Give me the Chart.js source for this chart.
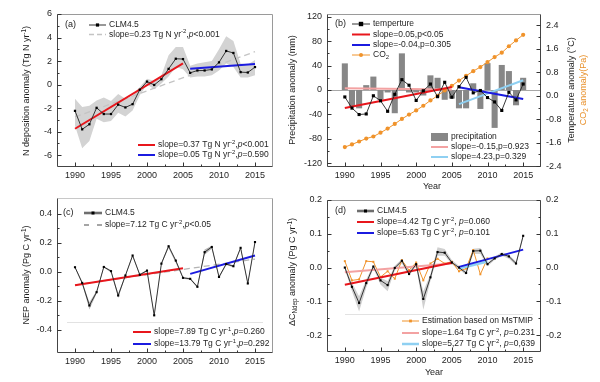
<!DOCTYPE html>
<html><head><meta charset="utf-8">
<script src="https://cdn.jsdelivr.net/npm/chart.js@4.4.0/dist/chart.umd.min.js"></script>
<style>
html,body{margin:0;padding:0;background:#fff;}
#wrap{position:relative;width:600px;height:382px;overflow:hidden;background:#fff;}
canvas{position:absolute;left:0;top:0;}
</style></head><body><div id="wrap">
<canvas id="ca" width="600" height="382"></canvas>
<canvas id="cb" width="600" height="382"></canvas>
<canvas id="cc" width="600" height="382"></canvas>
<canvas id="cd" width="600" height="382"></canvas>
</div>
<script>
// ---------- shared ----------
const years = [1990,1991,1992,1993,1994,1995,1996,1997,1998,1999,2000,2001,2002,2003,2004,2005,2006,2007,2008,2009,2010,2011,2012,2013,2014,2015];
const msYears = [1990,1991,1992,1993,1994,1995,1996,1997,1998,1999,2000,2001,2002,2003,2004,2005,2006,2007,2008,2009,2010];
const trendYearsAll = [1990,2015];
const trendYearsEarly = [1990,2005];
const trendYearsLate = [2006,2015];
const trendYearsMsLate = [2006,2010];
const xTicks = [1990,1995,2000,2005,2010,2015];
const xMinorTicks = [1992.5,1997.5,2002.5,2007.5,2012.5];

// ---------- (a) N deposition ----------
const nDep = [-2.23,-3.8,-3.37,-1.97,-2.5,-2.5,-1.7,-1.94,-1.66,-0.43,0.26,-0.03,0.46,1.34,2.2,2.17,1.0,1.2,1.2,1.29,1.89,2.86,2.69,1.06,1.03,1.49];
const nDepUpper = [-1.2,-1.9,-1.8,-1.35,-1.1,-1.4,-0.8,-1.2,-0.95,-0.2,0.5,0.3,0.8,2.5,3.2,3.2,1.6,1.8,1.9,2.0,3.0,4.1,3.7,1.8,1.7,2.1];
const nDepLower = [-3.5,-5.4,-4.8,-2.9,-3.2,-3.1,-2.4,-2.7,-2.2,-0.9,0.0,-0.4,0.1,0.7,1.5,1.3,0.6,0.7,0.7,0.8,1.2,1.8,1.5,0.6,0.6,0.8];
const nDepTrendAll = [-2.75,2.8];
const nDepTrendEarly = [-3.75,1.8];
const nDepTrendLate = [1.35,1.75];
const aYTicks = [-6,-4,-2,0,2,4,6];

// ---------- (b) climate ----------
const precip = [43.6,-27,-30,8,22,-16,-4,-38,60,-4,-4,-9,24,20,-16,-14,-30,-30,11,-31,44,-62,41,31,-25,20];
const temperature = [-0.04,-0.42,-0.64,-0.62,0.0,-0.17,-0.53,0.05,0.55,0.36,-0.16,0.17,0.4,-0.03,0.46,-0.05,0.31,0.63,0.1,0.18,-0.06,-0.21,-0.5,0.12,-0.14,0.4];
const co2 = [-1.75,-1.66,-1.56,-1.46,-1.39,-1.26,-1.12,-0.96,-0.79,-0.64,-0.5,-0.34,-0.16,0.0,0.18,0.34,0.52,0.68,0.84,0.98,1.15,1.32,1.47,1.69,1.89,2.08];
const tempTrendEarly = [-0.42,0.3];
const tempTrendLate = [0.29,-0.11];
const precipTrendEarly = [3,0.8];
const precipTrendLate = [-23,16];
const bLeftTicks = [-120,-80,-40,0,40,80,120];
const bRightTicks = [-2.4,-1.6,-0.8,0,0.8,1.6,2.4];

// ---------- (c) NEP ----------
const nep = [0.032,-0.076,-0.232,-0.14,0.034,0.005,-0.163,-0.025,0.113,-0.02,0.009,-0.3,0.057,0.177,0.078,-0.041,-0.048,-0.103,0.136,0.172,-0.035,0.054,0.039,0.166,-0.08,0.206];
const nepUpper = [0.037,-0.068,-0.21,-0.13,0.04,0.012,-0.15,-0.02,0.12,-0.014,0.015,-0.29,0.064,0.187,0.08,-0.035,-0.042,-0.095,0.155,0.18,-0.03,0.062,0.046,0.172,-0.072,0.214];
const nepLower = [0.027,-0.085,-0.26,-0.15,0.028,-0.003,-0.18,-0.032,0.105,-0.026,0.002,-0.31,0.05,0.165,0.062,-0.048,-0.055,-0.11,0.118,0.16,-0.045,0.048,0.032,0.158,-0.088,0.198];
const nepTrendAll = [-0.09,0.088];
const nepTrendEarly = [-0.092,0.025];
const nepTrendLate = [-0.014,0.113];
const cYTicks = [-0.4,-0.2,0,0.2,0.4];

// ---------- (d) delta C Ndep ----------
const dcClm = [0.0,-0.057,-0.105,-0.046,0.003,-0.038,-0.052,-0.001,0.02,-0.019,0.01,-0.093,-0.029,0.046,0.044,0.015,0.0,-0.016,0.049,0.05,0.01,0.027,0.04,0.033,0.012,0.094];
const dcUpper = [0.005,-0.045,-0.085,-0.035,0.008,-0.03,-0.04,0.005,0.025,-0.012,0.015,-0.07,-0.02,0.06,0.055,0.022,0.005,-0.01,0.056,0.058,0.015,0.032,0.045,0.038,0.018,0.1];
const dcLower = [-0.005,-0.07,-0.13,-0.06,-0.002,-0.05,-0.07,-0.008,0.012,-0.025,0.005,-0.125,-0.04,0.035,0.035,0.01,-0.005,-0.022,0.04,0.04,0.004,0.022,0.035,0.026,0.006,0.088];
const dcMsTmip = [0.019,-0.038,-0.035,0.019,0.017,-0.028,-0.011,-0.033,0.022,-0.008,0.015,-0.038,0.012,0.026,0.012,0.017,-0.011,-0.003,0.052,-0.02,0.027];
const dcTrendEarly = [-0.051,0.014];
const dcTrendLate = [0.002,0.053];
const msTrendEarly = [-0.014,0.012];
const msTrendLate = [-0.003,0.018];
const dYTicks = [-0.2,-0.1,0,0.1,0.2];

// ---------- styling ----------
const FONT = '"Liberation Sans", Arial, sans-serif';
const TXT = '#1e1e1e';
const RED = '#e8161c', BLUE = '#1b1be0', PINK = '#f3a2a2', LBLUE = '#8fd0f2', ORANGE = '#f0932b', BAND = '#d3d3d3';

function pts(xs, ys){ return xs.map((x,i)=>({x:x, y:ys[i]})); }

function xScaleOpt(h){
  return {type:'linear', position:'bottom', min:1987.5, max:2017.5, offset:false,
    grid:{display:false, drawTicks:false}, border:{display:false},
    ticks:{font:{family:FONT,size:9}, color:TXT, padding:3, maxRotation:0, autoSkip:false, callback:v=>String(v)},
    afterBuildTicks:s=>{s.ticks = xTicks.map(v=>({value:v}));},
    afterFit:s=>{s.height = h;}};
}
function yScaleOpt(pos, min, max, tickVals, fmt, w){
  return {type:'linear', position:pos, min:min, max:max,
    grid:{display:false, drawTicks:false}, border:{display:false},
    ticks:{font:{family:FONT,size:9}, color:TXT, padding:5, autoSkip:false, callback:v=>fmt(v)},
    afterBuildTicks:s=>{s.ticks = tickVals.map(v=>({value:v}));},
    afterFit:s=>{s.width = w;}};
}

function parseRich(s){
  const out=[]; let buf='', italic=false, i=0;
  const flush=()=>{ if(buf){ out.push({t:buf, m:'n', it:italic}); buf=''; } };
  while(i<s.length){
    const c=s[i];
    if((c==='^'||c==='_') && s[i+1]==='{'){
      flush(); const end=s.indexOf('}', i);
      out.push({t:s.slice(i+2,end), m:c==='^'?'sup':'sub', it:italic}); i=end+1; continue;
    }
    if(c==='*'){ flush(); italic=!italic; i++; continue; }
    buf+=c; i++;
  }
  flush(); return out;
}
function fontFor(t,size){ return (t.it?'italic ':'') + (t.m==='n'?size:size*0.7).toFixed(2) + 'px ' + FONT; }
function drawRich(ctx, str, x, y, size, color, align, rot){
  const toks=parseRich(str); let w=0;
  toks.forEach(t=>{ ctx.font=fontFor(t,size); t.w=ctx.measureText(t.t).width; w+=t.w; });
  ctx.save(); ctx.translate(x,y); if(rot) ctx.rotate(-Math.PI/2);
  let cx = align==='center' ? -w/2 : (align==='right' ? -w : 0);
  ctx.fillStyle=color; ctx.textBaseline='middle'; ctx.textAlign='left';
  toks.forEach(t=>{ ctx.font=fontFor(t,size);
    const dy = t.m==='sup' ? -size*0.35 : (t.m==='sub' ? size*0.3 : 0);
    ctx.fillText(t.t, cx, dy); cx+=t.w; });
  ctx.restore();
}
function seg(ctx,x1,y1,x2,y2,color,w){
  ctx.beginPath(); ctx.moveTo(x1,y1); ctx.lineTo(x2,y2); ctx.strokeStyle=color; ctx.lineWidth=w||1; ctx.stroke();
}
function drawSample(ctx, e){
  const y=e.y, x1=e.x, x2=e.x+e.w;
  if(e.kind==='box'){ ctx.fillStyle=e.color; ctx.fillRect(x1, y-4, e.w, 8); }
  else {
    if(e.under){ ctx.setLineDash([]); seg(ctx,x1,y,x2,y,e.under,3); }
    ctx.setLineDash(e.dash||[]); seg(ctx,x1,y,x2,y,e.color,e.width); ctx.setLineDash([]);
    if(e.marker){ const mx=(x1+x2)/2, r=e.mr||1.6; ctx.fillStyle=e.mcolor||e.color;
      if(e.marker==='rect') ctx.fillRect(mx-r,y-r,2*r,2*r);
      else { ctx.beginPath(); ctx.arc(mx,y,r,0,Math.PI*2); ctx.fill(); } }
  }
  drawRich(ctx, e.text, x2+3, y, 8.5, e.tcolor||TXT, 'left');
}

function decorPlugin(cfg){
  return {
    id:'decor',
    beforeDatasetsDraw(chart){
      if(cfg.zeroLine){ const ctx=chart.ctx, a=chart.chartArea, s=chart.scales[cfg.zeroLine];
        const py=Math.round(s.getPixelForValue(0))+0.5; ctx.save(); seg(ctx,a.left,py,a.right,py,'#a8a8a8',1); ctx.restore(); }
    },
    afterDraw(chart){
      const ctx=chart.ctx, a=chart.chartArea; ctx.save();
      const L=Math.round(a.left)+0.5, R=Math.round(a.right)-0.5, T=Math.round(a.top)+0.5, B=Math.round(a.bottom)-0.5;
      seg(ctx,L,T,R,T,cfg.frame.top); seg(ctx,R,T,R,B,cfg.frame.right);
      seg(ctx,L,B,R,B,cfg.frame.bottom); seg(ctx,L,T,L,B,cfg.frame.left);
      const xs=chart.scales.x;
      xTicks.forEach(v=>{ const p=Math.round(xs.getPixelForValue(v))+0.5; seg(ctx,p,B,p,B-4,'#333'); });
      xMinorTicks.forEach(v=>{ const p=Math.round(xs.getPixelForValue(v))+0.5; seg(ctx,p,B,p,B-2,'#333'); });
      cfg.yAxes.forEach(ax=>{
        const s=chart.scales[ax.id], X = ax.side==='left'? L : R, dir = ax.side==='left'? 1 : -1;
        const tv=ax.ticks;
        tv.forEach(v=>{ const p=Math.round(s.getPixelForValue(v))+0.5; seg(ctx,X,p,X+4*dir,p,'#333'); });
        for(let i=0;i<tv.length-1;i++){ const m=(tv[i]+tv[i+1])/2; const p=Math.round(s.getPixelForValue(m))+0.5; seg(ctx,X,p,X+2*dir,p,'#333'); }
      });
      (cfg.hlines||[]).forEach(h=>seg(ctx,h.x1,h.y+0.5,h.x2,h.y+0.5,h.color,1));
      cfg.titles.forEach(t=>drawRich(ctx,t.text,t.x,t.y,t.size||9,t.color||TXT,'center',t.rot));
      drawRich(ctx, cfg.label.text, cfg.label.x, cfg.label.y, 9, TXT, 'left');
      cfg.legend.forEach(e=>drawSample(ctx,e));
      ctx.restore();
    }
  };
}

const baseOpts = (padding, scales) => ({
  responsive:false, animation:false, devicePixelRatio:1, events:[],
  layout:{padding:padding},
  plugins:{legend:{display:false}, tooltip:{enabled:false}},
  elements:{line:{tension:0}},
  scales:scales
});
const lineDs = (data, color, width, extra) => Object.assign({type:'line', data:data, borderColor:color, borderWidth:width, pointRadius:0, fill:false}, extra||{});

// ---------- Chart (a) ----------
new Chart(document.getElementById('ca'), {
  type:'line',
  data:{datasets:[
    lineDs(pts(years,nDep), '#222', 0.9, {order:0, pointStyle:'rect', pointRadius:1.6, pointBackgroundColor:'#000', pointBorderWidth:0}),
    lineDs(pts(trendYearsEarly,nDepTrendEarly), RED, 2, {order:1}),
    lineDs(pts(trendYearsLate,nDepTrendLate), BLUE, 2, {order:2}),
    lineDs(pts(trendYearsAll,nDepTrendAll), '#c4c4c4', 1.3, {order:3, borderDash:[6,4]}),
    lineDs(pts(years,nDepUpper), 'rgba(0,0,0,0)', 0, {order:5, fill:'+1', backgroundColor:BAND}),
    lineDs(pts(years,nDepLower), 'rgba(0,0,0,0)', 0, {order:6})
  ]},
  options: baseOpts({left:0, top:14, right:327, bottom:192}, {
    x: xScaleOpt(23),
    y: yScaleOpt('left', -7, 6, aYTicks, v=>String(v), 57)
  }),
  plugins:[decorPlugin({
    frame:{left:'#444', bottom:'#444', top:'#9a9a9a', right:'#9a9a9a'},
    yAxes:[{id:'y', side:'left', ticks:aYTicks}],
    titles:[{text:'N deposition anomaly (Tg N yr^{-1})', x:27, y:91, rot:true}],
    label:{text:'(a)', x:65, y:25},
    legend:[
      {x:89, y:25, w:17, color:'#333', width:1, marker:'rect', mcolor:'#000', mr:1.6, text:'CLM4.5'},
      {x:89, y:34.5, w:17, color:'#c4c4c4', width:1.5, dash:[5,3], text:'slope=0.23 Tg N yr^{-2},*p*<0.001'},
      {x:138, y:145, w:17, color:RED, width:2, text:'slope=0.37 Tg N yr^{-2},*p*<0.001'},
      {x:138, y:155, w:17, color:BLUE, width:2, text:'slope=0.05 Tg N yr^{-2},*p*=0.590'}
    ]
  })]
});

// ---------- Chart (b) ----------
new Chart(document.getElementById('cb'), {
  type:'line',
  data:{datasets:[
    lineDs(pts(years,temperature), '#222', 0.9, {yAxisID:'yR', order:0, pointStyle:'rect', pointRadius:2.2, pointBackgroundColor:'#000', pointBorderWidth:0}),
    lineDs(pts(trendYearsEarly,tempTrendEarly), RED, 2, {yAxisID:'yR', order:1}),
    lineDs(pts(trendYearsLate,tempTrendLate), BLUE, 2, {yAxisID:'yR', order:2}),
    lineDs(pts(years,co2), ORANGE, 1, {yAxisID:'yR', order:3, pointStyle:'circle', pointRadius:2.1, pointBackgroundColor:ORANGE, pointBorderWidth:0}),
    lineDs(pts(trendYearsLate,precipTrendLate), LBLUE, 2, {yAxisID:'y', order:4}),
    lineDs(pts(trendYearsEarly,precipTrendEarly), PINK, 2, {yAxisID:'y', order:5}),
    {type:'bar', data:pts(years,precip), yAxisID:'y', order:6, backgroundColor:'#878787', borderWidth:0, categoryPercentage:1, barPercentage:0.85}
  ]},
  options: baseOpts({left:300, top:14, right:29, bottom:192}, {
    x: xScaleOpt(23),
    y: yScaleOpt('left', -126, 124.4, bLeftTicks, v=>String(v), 27),
    yR: yScaleOpt('right', -2.43, 2.79, bRightTicks, v=>v.toFixed(1), 30)
  }),
  plugins:[decorPlugin({
    zeroLine:'y',
    frame:{left:'#444', bottom:'#444', top:'#9a9a9a', right:'#444'},
    yAxes:[{id:'y', side:'left', ticks:bLeftTicks},{id:'yR', side:'right', ticks:bRightTicks}],
    titles:[
      {text:'Precipitation anomaly (mm)', x:293, y:90, rot:true},
      {text:'Temperature anomaly (°C)', x:572, y:90, rot:true},
      {text:'CO_{2} anomaly(Pa)', x:584, y:90, rot:true, color:'#e8902a'},
      {text:'Year', x:432, y:187}
    ],
    label:{text:'(b)', x:335, y:24},
    legend:[
      {x:352, y:24, w:18, color:'#333', width:1, marker:'rect', mcolor:'#000', mr:2.2, text:'temperture'},
      {x:352, y:34.5, w:18, color:RED, width:2, text:'slope=0.05,p<0.05'},
      {x:352, y:45, w:18, color:BLUE, width:2, text:'slope=-0.04,p=0.305'},
      {x:352, y:55, w:18, color:ORANGE, width:1, marker:'circle', mr:2, text:'CO_{2}'},
      {x:431, y:137, w:17, kind:'box', color:'#878787', text:'precipitation'},
      {x:431, y:147, w:17, color:PINK, width:2, text:'slope=-0.15,p=0.923'},
      {x:431, y:157, w:17, color:LBLUE, width:2, text:'slope=4.23,p=0.329'}
    ]
  })]
});

// ---------- Chart (c) ----------
new Chart(document.getElementById('cc'), {
  type:'line',
  data:{datasets:[
    lineDs(pts(years,nep), '#222', 0.9, {order:0, pointStyle:'rect', pointRadius:1.5, pointBackgroundColor:'#000', pointBorderWidth:0}),
    lineDs(pts(trendYearsEarly,nepTrendEarly), RED, 2, {order:1}),
    lineDs(pts(trendYearsLate,nepTrendLate), BLUE, 2, {order:2}),
    lineDs(pts(trendYearsAll,nepTrendAll), '#b4b4b4', 1.3, {order:3, borderDash:[6,4]}),
    lineDs(pts(years,nepUpper), 'rgba(0,0,0,0)', 0, {order:5, fill:'+1', backgroundColor:'#b8b8b8'}),
    lineDs(pts(years,nepLower), 'rgba(0,0,0,0)', 0, {order:6})
  ]},
  options: baseOpts({left:0, top:198, right:327, bottom:7}, {
    x: xScaleOpt(22),
    y: yScaleOpt('left', -0.56, 0.51, cYTicks, v=>v.toFixed(1), 57)
  }),
  plugins:[decorPlugin({
    frame:{left:'#444', bottom:'#444', top:'#c8c8c8', right:'#9a9a9a'},
    yAxes:[{id:'y', side:'left', ticks:cYTicks}],
    hlines:[{x1:67, x2:263, y:322, color:'#e2e2e2'}],
    titles:[{text:'NEP anomaly (Pg C yr^{-1})', x:27, y:275, rot:true}],
    label:{text:'(c)', x:63, y:213},
    legend:[
      {x:84, y:213, w:18, color:'#333', width:1, under:'#aaaaaa', marker:'rect', mcolor:'#000', mr:1.5, text:'CLM4.5'},
      {x:84, y:225, w:18, color:'#888', width:1.3, dash:[5,8], text:'slope=7.12 Tg C yr^{-2},*p*<0.05'},
      {x:133, y:332, w:18, color:RED, width:2, text:'slope=7.89 Tg C yr^{-1},*p*=0.260'},
      {x:133, y:344, w:18, color:BLUE, width:2, text:'slope=13.79 Tg C yr^{-1},*p*=0.292'}
    ]
  })]
});

// ---------- Chart (d) ----------
new Chart(document.getElementById('cd'), {
  type:'line',
  data:{datasets:[
    lineDs(pts(years,dcClm), '#222', 0.9, {order:0, pointStyle:'rect', pointRadius:1.5, pointBackgroundColor:'#000', pointBorderWidth:0}),
    lineDs(pts(trendYearsEarly,dcTrendEarly), RED, 2, {order:1}),
    lineDs(pts(trendYearsLate,dcTrendLate), BLUE, 2, {order:2}),
    lineDs(pts(trendYearsEarly,msTrendEarly), PINK, 2, {order:3}),
    lineDs(pts(trendYearsMsLate,msTrendLate), LBLUE, 2.5, {order:4}),
    lineDs(pts(msYears,dcMsTmip), ORANGE, 1, {order:5, pointStyle:'rect', pointRadius:1.4, pointBackgroundColor:ORANGE, pointBorderWidth:0}),
    lineDs(pts(years,dcUpper), 'rgba(0,0,0,0)', 0, {order:7, fill:'+1', backgroundColor:'#d0d0d0'}),
    lineDs(pts(years,dcLower), 'rgba(0,0,0,0)', 0, {order:8})
  ]},
  options: baseOpts({left:300, top:200, right:29, bottom:7}, {
    x: xScaleOpt(23),
    y: yScaleOpt('left', -0.25, 0.2, dYTicks, v=>v.toFixed(1), 27),
    yR: yScaleOpt('right', -0.25, 0.2, dYTicks, v=>v.toFixed(1), 30)
  }),
  plugins:[decorPlugin({
    frame:{left:'#444', bottom:'#444', top:'#9a9a9a', right:'#444'},
    yAxes:[{id:'y', side:'left', ticks:dYTicks},{id:'yR', side:'right', ticks:dYTicks}],
    hlines:[{x1:345, x2:533, y:314, color:'#e2e2e2'}],
    titles:[
      {text:'ΔC_{Ndep} anomaly (Pg C yr^{-1})', x:293, y:272, rot:true},
      {text:'Year', x:434, y:373}
    ],
    label:{text:'(d)', x:335, y:211},
    legend:[
      {x:357, y:211, w:17, color:'#333', width:1, under:'#aaaaaa', marker:'rect', mcolor:'#000', mr:1.5, text:'CLM4.5'},
      {x:357, y:222, w:17, color:RED, width:2, text:'slope=4.42 Tg C yr^{-2}, *p*=0.060'},
      {x:357, y:233, w:17, color:BLUE, width:2, text:'slope=5.63 Tg C yr^{-2}, *p*=0.101'},
      {x:402, y:321, w:17, color:ORANGE, width:1, marker:'rect', mr:1.4, text:'Estimation based on MsTMIP'},
      {x:402, y:333, w:17, color:PINK, width:2, text:'slope=1.64 Tg C yr^{-2}, *p*=0.231'},
      {x:402, y:344, w:17, color:LBLUE, width:2.5, text:'slope=5,27 Tg C yr^{-2}, *p*=0,639'}
    ]
  })]
});
</script>
</body></html>
